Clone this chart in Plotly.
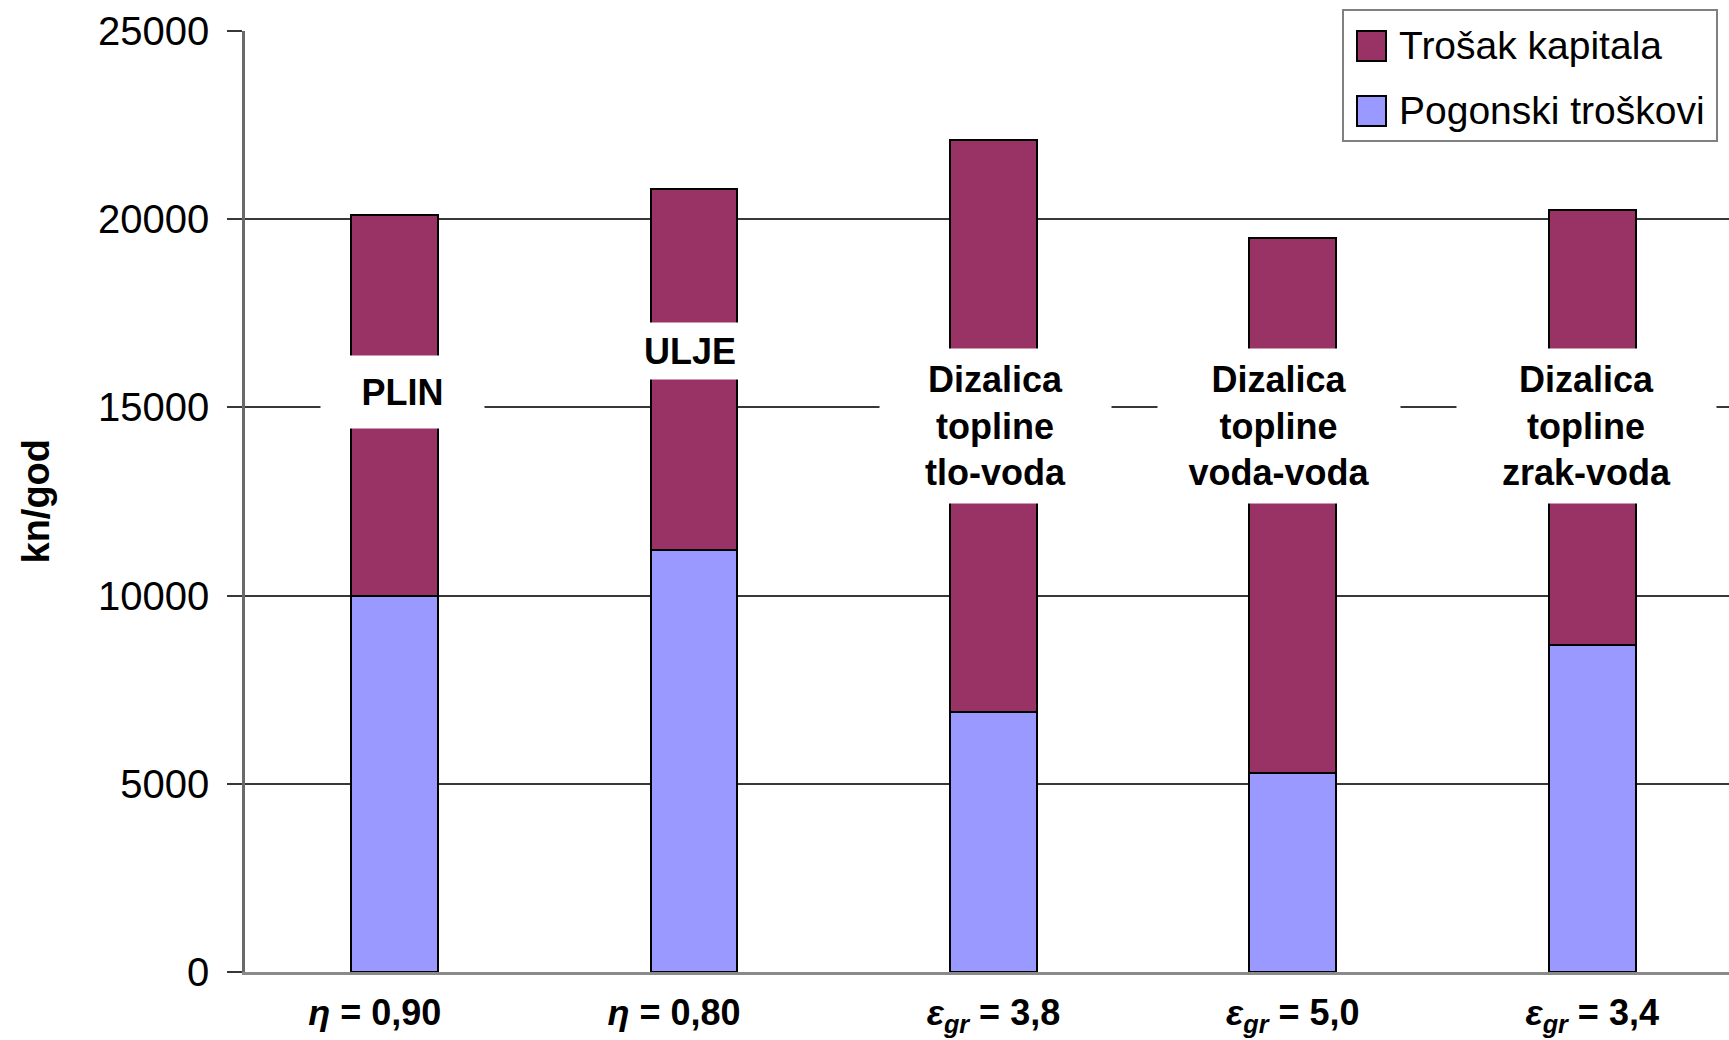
import plotly.graph_objects as go

# ---- data ----
categories = ["PLIN", "ULJE", "DT tlo-voda", "DT voda-voda", "DT zrak-voda"]
tick_labels = ["<b><i>η</i> = 0,90</b>" + "\u00a0" * 4, "<b><i>η</i> = 0,80</b>" + "\u00a0" * 4,
               "<b><i>ε<sub>gr</sub></i> = 3,8</b>", "<b><i>ε<sub>gr</sub></i> = 5,0</b>",
               "<b><i>ε<sub>gr</sub></i> = 3,4</b>"]
series_names = ["Pogonski troškovi", "Trošak kapitala"]
pogonski = [10000, 11200, 6900, 5300, 8700]
totals = [20100, 20800, 22100, 19500, 20250]
kapital = [t - p for t, p in zip(totals, pogonski)]
bar_labels = ["PLIN", "ULJE", "Dizalica<br>topline<br>tlo-voda",
              "Dizalica<br>topline<br>voda-voda", "Dizalica<br>topline<br>zrak-voda"]
label_y = [15400, 16500, 14500, 14500, 14500]
y_ticks = [0, 5000, 10000, 15000, 20000, 25000]
y_tick_text = ["0", "5000", "10000", "15000", "20000", "25000"]

# ---- styles ----
FONT = "Liberation Sans, Arial, sans-serif"
colors = ["#9999FF", "#993366"]
W, H = 1729, 1040
ml, mr, mt, mb = 245, 0, 31, 68

fig = go.Figure()
for name, vals, col in zip(series_names, [pogonski, kapital], colors):
    fig.add_trace(go.Bar(x=categories, y=vals, name=name, width=0.29,
                         marker=dict(color=col, line=dict(color="black", width=2)),
                         showlegend=False))

# label annotations with white boxes
label_xshift = [8, -4, 2, -14, -6]
label_w = [163, 160, 231, 242, 259]
label_h = [72, 56, 154, 154, 154]
anns = []
for c, t, yv, xs, w, h in zip(categories, bar_labels, label_y, label_xshift, label_w, label_h):
    anns.append(dict(x=c, y=yv, xref="x", yref="y", text="<b>%s</b>" % t, showarrow=False,
                     xshift=xs, width=w, height=h, bgcolor="white", borderpad=0,
                     font=dict(family=FONT, size=36, color="black"),
                     xanchor="center", yanchor="middle"))

# y-axis title
pw = W - ml - mr
ph = H - mt - mb
anns.append(dict(x=(35 - ml) / pw, y=0.5, xref="paper", yref="paper",
                 text="<b>kn/god</b>", textangle=-90, showarrow=False,
                 font=dict(family=FONT, size=38, color="black"),
                 xanchor="center", yanchor="middle"))

# legend (manual, large swatches)
def px_x(x):
    return (x - ml) / pw
def px_y(y):
    return (H - mb - y) / ph

shapes = [dict(type="rect", xref="paper", yref="paper",
               x0=px_x(1343), x1=px_x(1717), y0=px_y(141), y1=px_y(10),
               line=dict(color="#808080", width=2), fillcolor="white", layer="above")]
leg_items = [(series_names[1], colors[1], 46), (series_names[0], colors[0], 111)]
for name, col, yc in leg_items:
    shapes.append(dict(type="rect", xref="paper", yref="paper",
                       x0=px_x(1357), x1=px_x(1386), y0=px_y(yc + 15), y1=px_y(yc - 15),
                       line=dict(color="black", width=2), fillcolor=col, layer="above"))
    anns.append(dict(x=px_x(1397), y=px_y(yc), xref="paper", yref="paper", text=name,
                     showarrow=False, xanchor="left", yanchor="middle",
                     font=dict(family=FONT, size=39, color="black")))

fig.update_layout(
    width=W, height=H, barmode="stack",
    margin=dict(l=ml, r=mr, t=mt, b=mb, autoexpand=False),
    paper_bgcolor="white", plot_bgcolor="white",
    showlegend=False, annotations=anns, shapes=shapes,
    xaxis=dict(range=[-0.5, 4.457], tickmode="array", tickvals=categories, ticktext=tick_labels,
               tickfont=dict(family=FONT, size=36, color="black"), showgrid=False,
               showline=True, linecolor="#8a8a8a", linewidth=3, ticks="",
               ticklabelstandoff=7, automargin=False),
    yaxis=dict(range=[0, 25000], tickmode="array", tickvals=y_ticks, ticktext=y_tick_text,
               tickfont=dict(family=FONT, size=40, color="black"),
               showgrid=True, gridcolor="#383838", gridwidth=1.5, zeroline=False,
               showline=True, linecolor="#6a6a6a", linewidth=2.5,
               ticks="outside", ticklen=15, tickcolor="#383838", tickwidth=1.5,
               ticklabelstandoff=10, automargin=False),
)
fig.write_html("out.html")
